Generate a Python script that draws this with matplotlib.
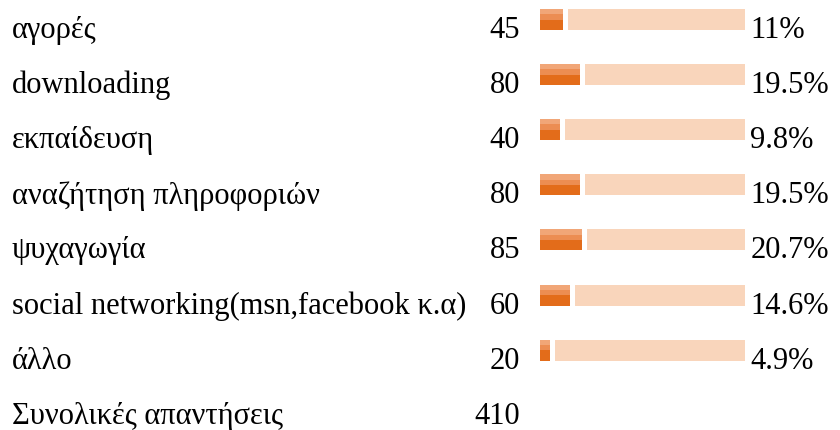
import matplotlib
matplotlib.use("Agg")
import matplotlib.pyplot as plt

# Survey data
labels = ["αγορές", "downloading", "εκπαίδευση", "αναζήτηση πληροφοριών",
          "ψυχαγωγία", "social networking(msn,facebook κ.α)", "άλλο"]
counts = [45, 80, 40, 80, 85, 60, 20]
percents = [11, 19.5, 9.8, 19.5, 20.7, 14.6, 4.9]
pct_labels = ["11%", "19.5%", "9.8%", "19.5%", "20.7%", "14.6%", "4.9%"]
total_label = "Συνολικές απαντήσεις"
total = 410

plt.rcParams['font.family'] = ['Liberation Serif', 'DejaVu Serif']

fig = plt.figure(figsize=(8.4, 4.3), dpi=100)
ax = fig.add_axes([0, 0, 1, 1])
ax.axis('off')

# 100% spans ~205 px, bar origin at x=540 px
ppu = 2.05
ax.set_xlim(-540 / ppu, (840 - 540) / ppu)
row_px = 55.1
ax.set_ylim((430 - 19.5) / row_px, -19.5 / row_px)

h = 21 / row_px
gap = 5 / ppu
dark = '#E36C1A'
top1 = '#F1A677'
top2 = '#EC8D52'
light = '#F9D5BB'
fs = 22
toff = 0.2

for i, (lab, c, p, pl) in enumerate(zip(labels, counts, percents, pct_labels)):
    ax.barh(i, p, left=0, height=h, color=dark, linewidth=0)
    ax.barh(i - h * 3 / 8, p, left=0, height=h / 4, color=top1, linewidth=0)
    ax.barh(i - h / 8, p, left=0, height=h / 4, color=top2, linewidth=0)
    ax.barh(i, 100 - p - gap, left=p + gap, height=h, color=light, linewidth=0)
    ax.text(-528 / ppu, i + toff, lab, fontsize=fs, va='center', ha='left')
    ax.text(-20 / ppu, i + toff, str(c), fontsize=fs, va='center', ha='right')
    ax.text(102.5, i + toff, pl, fontsize=fs, va='center', ha='left')

n = len(labels)
ax.text(-528 / ppu, n + toff, total_label, fontsize=fs, va='center', ha='left')
ax.text(-20 / ppu, n + toff, str(total), fontsize=fs, va='center', ha='right')

plt.savefig("out.png", dpi=100)
